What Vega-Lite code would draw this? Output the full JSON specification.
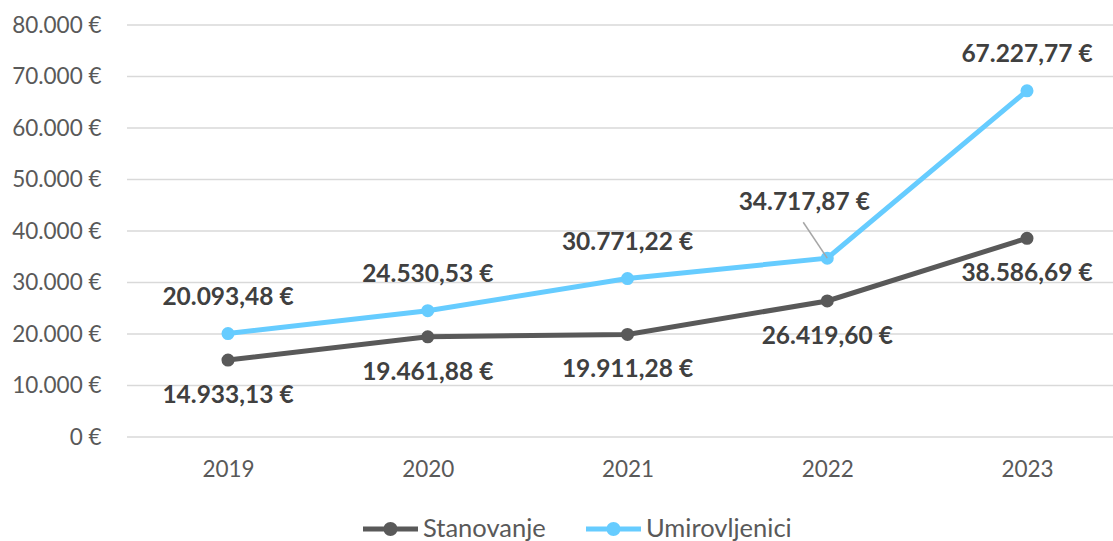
{
  "$schema": "https://vega.github.io/schema/vega-lite/v6.json",
  "width": 986,
  "height": 412,
  "autosize": "none",
  "padding": {"top": 25, "left": 127, "right": 0, "bottom": 104},
  "config": {
    "font": "Lato",
    "view": {"stroke": null},
    "locale": {"number": {"decimal": ",", "thousands": ".", "grouping": [3], "currency": ["", " €"]}}
  },
  "data": {"values": [
    {"year": "2019", "series": "Stanovanje", "value": 14933.13},
    {"year": "2020", "series": "Stanovanje", "value": 19461.88},
    {"year": "2021", "series": "Stanovanje", "value": 19911.28},
    {"year": "2022", "series": "Stanovanje", "value": 26419.60},
    {"year": "2023", "series": "Stanovanje", "value": 38586.69},
    {"year": "2019", "series": "Umirovljenici", "value": 20093.48},
    {"year": "2020", "series": "Umirovljenici", "value": 24530.53},
    {"year": "2021", "series": "Umirovljenici", "value": 30771.22},
    {"year": "2022", "series": "Umirovljenici", "value": 34717.87},
    {"year": "2023", "series": "Umirovljenici", "value": 67227.77}
  ]},
  "layer": [
    {
      "data": {"values": [{"g": 0}, {"g": 10000}, {"g": 20000}, {"g": 30000}, {"g": 40000}, {"g": 50000}, {"g": 60000}, {"g": 70000}, {"g": 80000}]},
      "mark": {"type": "rule", "color": "#d9d9d9", "strokeWidth": 1.5},
      "encoding": {"y": {"field": "g", "type": "quantitative", "scale": {"domain": [0, 80000], "nice": false},
        "axis": {"title": null, "values": [0,10000,20000,30000,40000,50000,60000,70000,80000], "format": "$,.0f", "labelFontSize": 22.5, "labelColor": "#595959", "labelPadding": 26, "ticks": false, "domain": false, "grid": false}}}
    },
    {
      "encoding": {
        "x": {"field": "year", "type": "ordinal", "scale": {"type": "point", "range": [101, 900], "padding": 0},
          "axis": {"title": null, "labelAngle": 0, "labelFontSize": 22.5, "labelColor": "#595959", "labelPadding": 21, "ticks": false, "domain": false, "grid": false}},
        "y": {"field": "value", "type": "quantitative"}
      },
      "layer": [
        {
          "mark": {"type": "line", "strokeWidth": 5, "point": {"filled": true, "size": 170, "opacity": 1}},
          "encoding": {
            "color": {"field": "series", "type": "nominal",
              "scale": {"domain": ["Stanovanje", "Umirovljenici"], "range": ["#595959", "#66CCFF"]},
              "legend": {"title": null, "orient": "none", "direction": "horizontal", "legendX": 236, "legendY": 476.5,
                "symbolType": "M-1,-0.09L-0.2,-0.09L-0.2,0.09L-1,0.09Z M0.2,-0.09L1,-0.09L1,0.09L0.2,0.09Z M0.255,0A0.255,0.255 0 1 1 -0.255,0A0.255,0.255 0 1 1 0.255,0Z",
                "symbolSize": 3025, "symbolStrokeWidth": 0, "labelFontSize": 25.5, "labelColor": "#595959", "labelOffset": 5, "columnPadding": 40,
                "encode": {"symbols": {"update": {"fill": {"scale": "color", "field": "value"}, "stroke": {"value": "transparent"}, "opacity": {"value": 1}}}}}
            }
          }
        },
        {
          "transform": [{"filter": "datum.series === 'Stanovanje'"}],
          "mark": {"type": "text", "dy": 36, "fontSize": 24.5, "fontWeight": "bold", "color": "#404040"},
          "encoding": {"text": {"field": "value", "type": "quantitative", "format": "$,.2f"}}
        },
        {
          "transform": [{"filter": "datum.series === 'Umirovljenici' && datum.year !== '2022'"}],
          "mark": {"type": "text", "dy": -36, "fontSize": 24.5, "fontWeight": "bold", "color": "#404040"},
          "encoding": {"text": {"field": "value", "type": "quantitative", "format": "$,.2f"}}
        },
        {
          "transform": [{"filter": "datum.series === 'Umirovljenici' && datum.year === '2022'"}],
          "mark": {"type": "text", "dy": -55, "dx": -23, "fontSize": 24.5, "fontWeight": "bold", "color": "#404040"},
          "encoding": {"text": {"field": "value", "type": "quantitative", "format": "$,.2f"}}
        },
        {
          "transform": [{"filter": "datum.series === 'Umirovljenici' && datum.year === '2022'"}],
          "mark": {"type": "rule", "color": "#a6a6a6", "strokeWidth": 1.5, "x2Offset": -24},
          "encoding": {"x2": {"field": "year"}, "y2": {"datum": 41700}}
        }
      ]
    }
  ]
}
